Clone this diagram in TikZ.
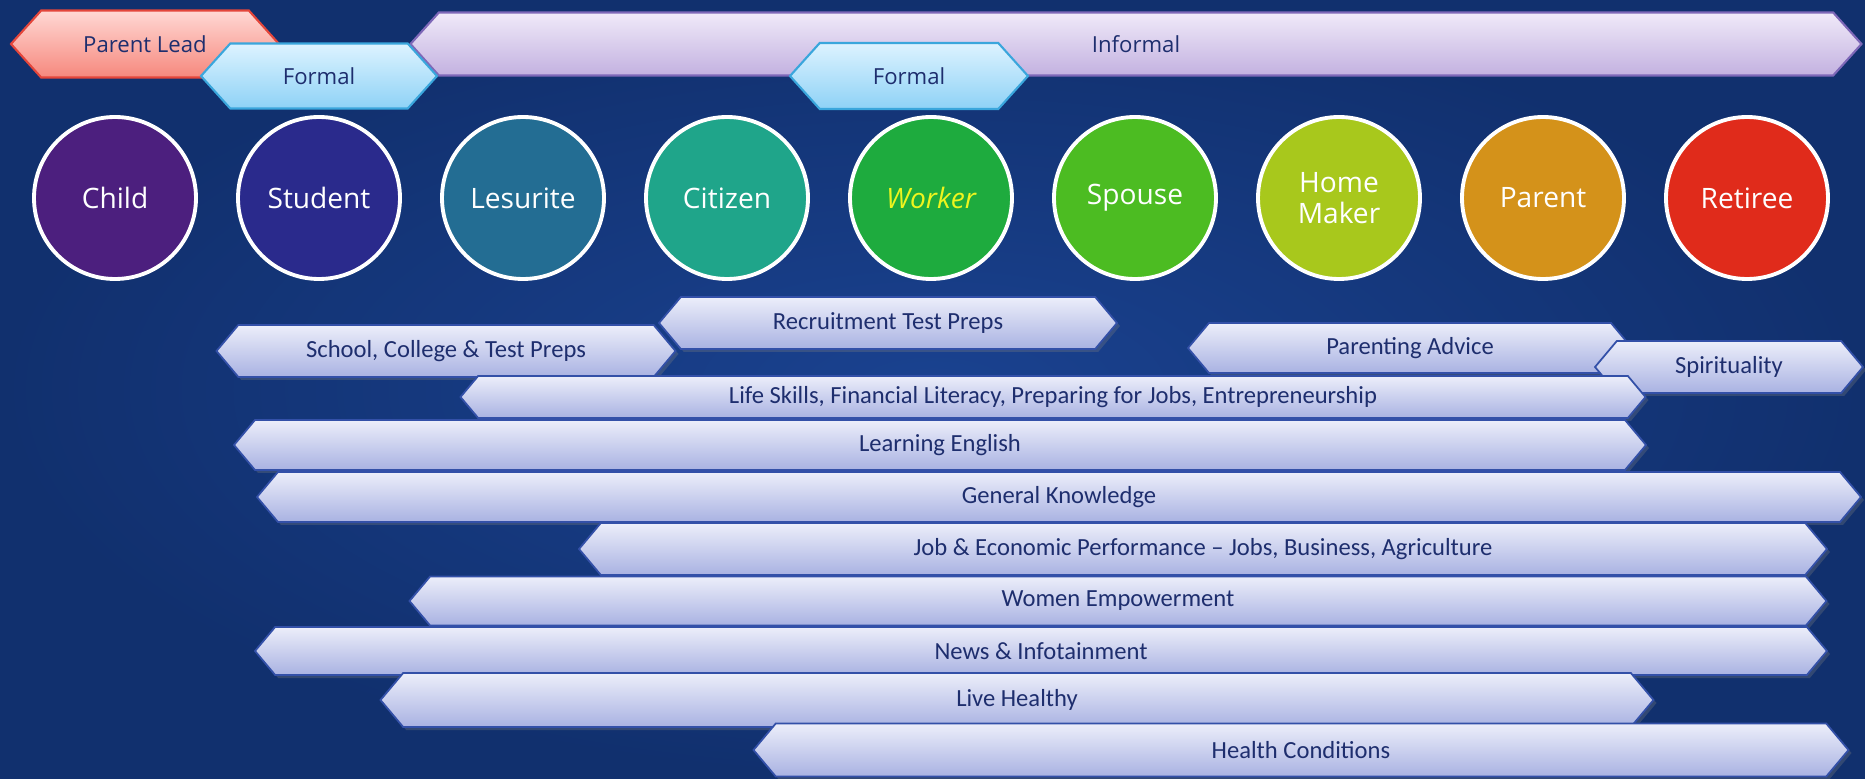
\documentclass[tikz,border=0pt]{standalone}
\usepackage{fontspec}
\setmainfont{Carlito}
\newfontfamily\roundfont{Open Sans}
\usetikzlibrary{shapes.symbols,shadows}

\definecolor{bgmid}{HTML}{1A4290}
\definecolor{bgedge}{HTML}{11306E}
\definecolor{bartop}{HTML}{ECEEFA}
\definecolor{barbot}{HTML}{A9B2E2}
\definecolor{barline}{HTML}{3350A8}
\definecolor{bartext}{HTML}{1E2E6E}
\definecolor{leadtop}{HTML}{FFD8D4}
\definecolor{leadbot}{HTML}{F6887D}
\definecolor{leadline}{HTML}{E4463B}
\definecolor{formtop}{HTML}{DDF3FF}
\definecolor{formbot}{HTML}{8ED2F6}
\definecolor{formline}{HTML}{3AA6DC}
\definecolor{inftop}{HTML}{F0EAF9}
\definecolor{infbot}{HTML}{C3B1E0}
\definecolor{infline}{HTML}{7E68B8}
\definecolor{cchild}{HTML}{4C1F7E}
\definecolor{cstudent}{HTML}{2A2A8C}
\definecolor{cleisure}{HTML}{236D93}
\definecolor{ccitizen}{HTML}{1FA58A}
\definecolor{cworker}{HTML}{1EAB3E}
\definecolor{cspouse}{HTML}{4CBC22}
\definecolor{chome}{HTML}{A8C81C}
\definecolor{cparent}{HTML}{D4921A}
\definecolor{cretiree}{HTML}{E02B1B}
\definecolor{workertext}{HTML}{EEF51E}

\begin{document}
\begin{tikzpicture}[x=0.1mm,y=-0.1mm,
    band/.style={signal, signal to=west and east, signal pointer angle=96,
        line width=0.6pt, inner sep=0pt, text=bartext,
        font=\roundfont\fontsize{6.3}{7}\selectfont},
    bar/.style={signal, signal to=west and east, signal pointer angle=100,
        draw=barline, line width=0.5pt, top color=bartop, bottom color=barbot,
        inner sep=0pt, text=bartext, font=\fontsize{7}{8}\selectfont,
        drop shadow={opacity=0.3, shadow xshift=0.3mm, shadow yshift=-0.3mm}},
    role/.style={circle, draw=white, line width=1.1pt, minimum size=16.2mm,
        inner sep=0pt, text=white, align=center,
        font=\roundfont\fontsize{8}{8.6}\selectfont}]

    % background
    \useasboundingbox (0,0) rectangle (1865,779);
    \shade[inner color=bgmid, outer color=bgedge] (0,0) rectangle (1865,779);

    % top bands
    \node[band, draw=infline, top color=inftop, bottom color=infbot,
        minimum width=145.1mm, minimum height=6.3mm] (informal) at (1136,44) {Informal};
    \node[band, draw=leadline, top color=leadtop, bottom color=leadbot,
        minimum width=26.8mm, minimum height=6.7mm] (lead) at (145,44) {Parent Lead};
    \node[band, draw=formline, top color=formtop, bottom color=formbot,
        minimum width=23.6mm, minimum height=6.5mm] (formal1) at (319,76) {Formal};
    \node[band, draw=formline, top color=formtop, bottom color=formbot,
        minimum width=23.8mm, minimum height=6.6mm] (formal2) at (909,76) {Formal};

    % life roles
    \node[role, fill=cchild] (child) at (115,198) {Child};
    \node[role, fill=cstudent] (student) at (319,198) {Student};
    \node[role, fill=cleisure] (lesurite) at (523,198) {Lesurite};
    \node[role, fill=ccitizen] (citizen) at (727,198) {Citizen};
    \node[role, fill=cworker, text=workertext, font=\roundfont\itshape\fontsize{8}{8.6}\selectfont] (worker) at (931,198) {Worker};
    \node[role, fill=cspouse] (spouse) at (1135,198) {Spouse};
    \node[role, fill=chome] (homemaker) at (1339,198) {Home\\Maker};
    \node[role, fill=cparent] (parent) at (1543,198) {Parent};
    \node[role, fill=cretiree] (retiree) at (1747,198) {Retiree};

    % content bars
    \node[bar, minimum width=45.8mm, minimum height=5.2mm] (recruit) at (888,323) {Recruitment Test Preps};
    \node[bar, minimum width=45.9mm, minimum height=5.2mm] (school) at (446,351) {School, College \& Test Preps};
    \node[bar, minimum width=44.4mm, minimum height=5.0mm] (parenting) at (1410,348) {Parenting Advice};
    \node[bar, minimum width=26.8mm, minimum height=5.2mm] (spirit) at (1729,367) {Spirituality};
    \node[bar, minimum width=118.5mm, minimum height=4.2mm] (lifeskills) at (1053,397) {Life Skills, Financial Literacy, Preparing for Jobs, Entrepreneurship};
    \node[bar, minimum width=141.2mm, minimum height=5.0mm] (english) at (940,445) {Learning English};
    \node[bar, minimum width=160.4mm, minimum height=5.0mm] (gk) at (1059,497) {General Knowledge};
    \node[bar, minimum width=124.8mm, minimum height=5.2mm] (economy) at (1203,549) {Job \& Economic Performance -- Jobs, Business, Agriculture};
    \node[bar, minimum width=141.7mm, minimum height=4.9mm] (women) at (1118,601) {Women Empowerment};
    \node[bar, minimum width=157.2mm, minimum height=4.8mm] (news) at (1041,651) {News \& Infotainment};
    \node[bar, minimum width=127.3mm, minimum height=5.4mm] (healthy) at (1017,700) {Live Healthy};
    \node[bar, minimum width=109.5mm, minimum height=5.3mm] (health) at (1301,750) {Health Conditions};

\end{tikzpicture}
\end{document}
